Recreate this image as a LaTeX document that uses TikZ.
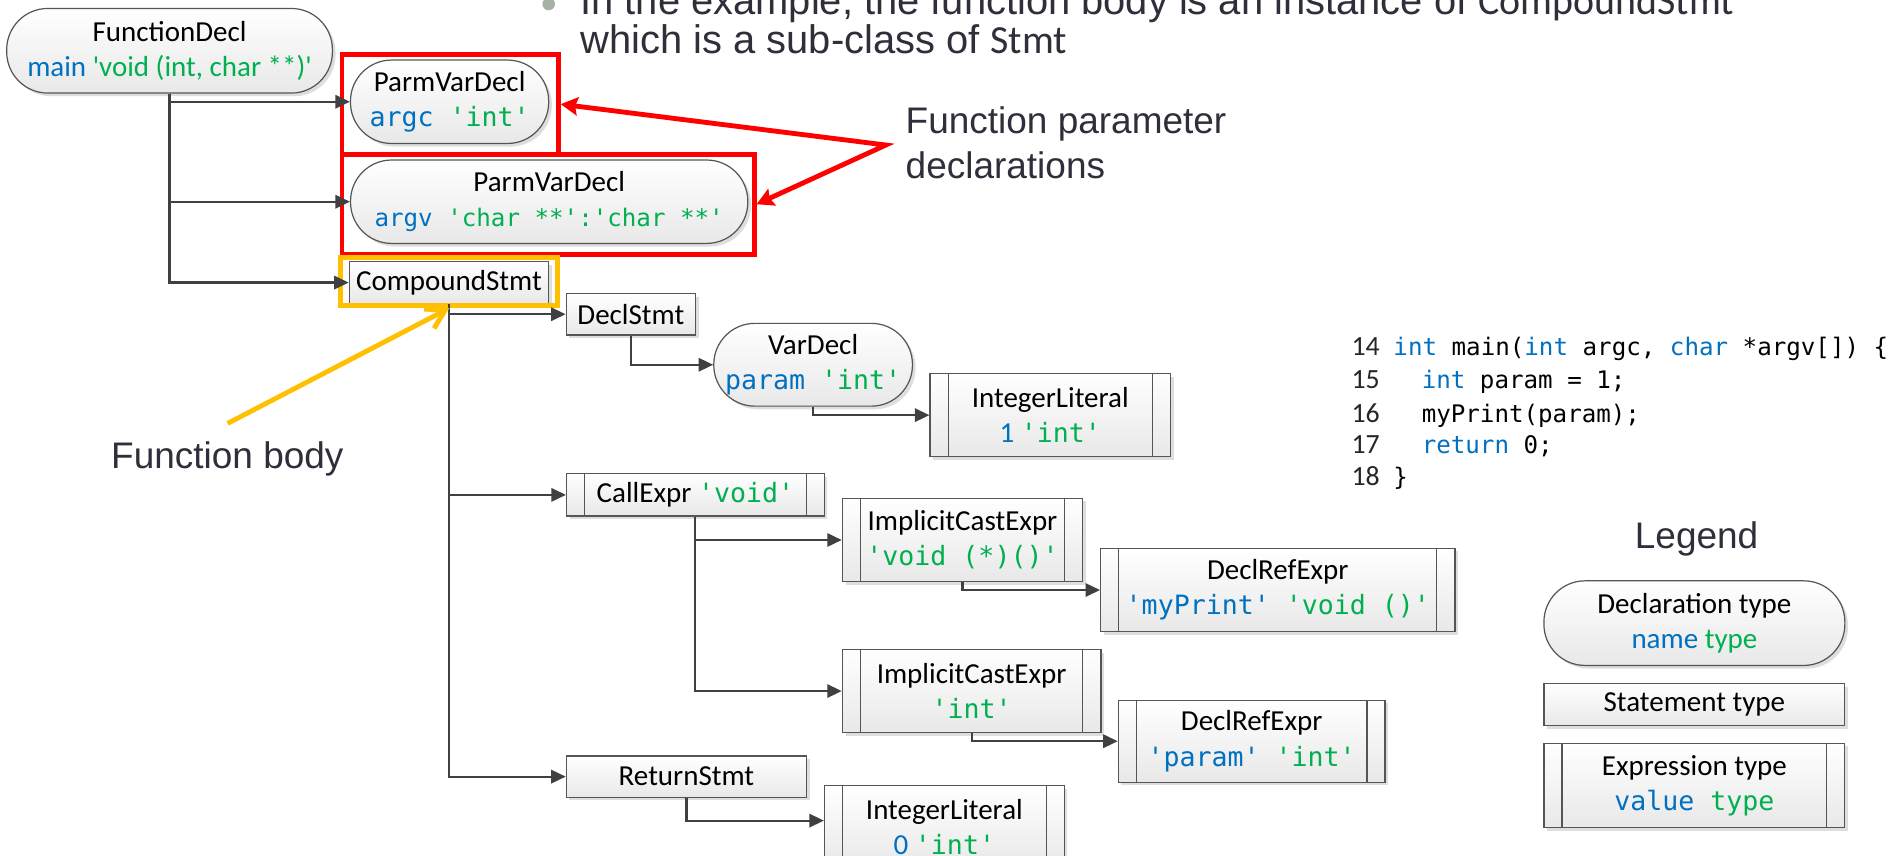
\documentclass[tikz,border=0pt]{standalone}
\usepackage{fontspec}
\newfontfamily\calib{Carlito}
\newfontfamily\cmonof{DejaVu Sans Mono}
\newfontfamily\arialf{Liberation Sans}
\usetikzlibrary{arrows.meta,shadows}
\definecolor{nblue}{HTML}{0070C0}
\definecolor{ngreen}{HTML}{00B050}
\definecolor{annot}{HTML}{2F2F3B}
\definecolor{hlyellow}{HTML}{FFC000}
\definecolor{bulletc}{HTML}{A8B0A8}
\definecolor{linec}{HTML}{404040}
\definecolor{borderc}{HTML}{555555}
\newcommand\nbl[1]{\textcolor{nblue}{#1}}
\newcommand\ngr[1]{\textcolor{ngreen}{#1}}
\newcommand\mtx[1]{{\cmonof\fontsize{11}{14.5}\selectfont #1}}
\newcommand\mts[1]{{\cmonof\fontsize{10}{14.5}\selectfont #1}}
\tikzset{
  astbox/.style={draw=borderc, line width=0.5pt, top color=white, bottom color=black!9,
    drop shadow={shadow xshift=1.3pt, shadow yshift=-1.3pt, fill=black!13, opacity=1},
    inner sep=0pt, align=center, text=black, font=\calib\fontsize{12}{14.5}\selectfont},
  declnode/.style={astbox, rounded corners=17pt},
  stmtnode/.style={astbox},
  exprnode/.style={astbox, path picture={
    \draw[borderc, line width=0.5pt]
      ([xshift=7.5pt]path picture bounding box.north west) -- ([xshift=7.5pt]path picture bounding box.south west)
      ([xshift=-7.5pt]path picture bounding box.north east) -- ([xshift=-7.5pt]path picture bounding box.south east);}},
  conn/.style={draw=linec, line width=0.9pt, -{Triangle[length=6pt,width=5.5pt]}},
  hlred/.style={draw=red, line width=2pt, inner sep=0pt},
  hlyel/.style={draw=hlyellow, line width=2pt, inner sep=0pt},
  annottext/.style={inner sep=0pt, text=annot, font=\arialf\fontsize{15.3}{18}\selectfont},
  codeline/.style={inner sep=0pt, anchor=base west, text=black, font=\cmonof\fontsize{10}{13}\selectfont},
  codenum/.style={inner sep=0pt, anchor=base west, text=black!85, font=\calib\fontsize{11.5}{13}\selectfont},
}
\begin{document}
\begin{tikzpicture}[x=0.5pt,y=-0.5pt]
\useasboundingbox (0,0) rectangle (1568,707.5);
\clip (0,0) rectangle (1568,707.5);
\fill[white] (0,0) rectangle (1568,707.5);

% heading text (cut by the top edge)
\node[circle, fill=bulletc, inner sep=0pt, minimum size=5.2pt] (bul) at (454,3.3) {};
\node[inner sep=0pt, anchor=base west, text=annot, font=\arialf\fontsize{16.5}{18}\selectfont] (t1) at (480,12.4)
  {In the example, the function body is an instance of {\calib CompoundStmt}};
\node[inner sep=0pt, anchor=base west, text=annot, font=\arialf\fontsize{16.5}{18}\selectfont] (t2) at (480,44.1)
  {which is a sub-class of {\calib Stmt}};

% AST nodes
\node[declnode, minimum width=134.75pt, minimum height=35pt] (fd) at (140.3,42)
  {FunctionDecl\\ \nbl{main} \ngr{'void (int, char **)'}};
\node[declnode, minimum width=82pt, minimum height=34.5pt] (p1) at (372,84.2)
  {ParmVarDecl\\ \mtx{\nbl{argc} \ngr{'int'}}};
\node[declnode, minimum width=164.35pt, minimum height=34.5pt] (p2) at (454.4,166.9)
  {ParmVarDecl\\ \mts{\nbl{argv} \ngr{'char **':'char **'}}};
\node[stmtnode, minimum width=82.5pt, minimum height=17.25pt] (cs) at (371.5,233.8) {CompoundStmt};
\node[stmtnode, minimum width=53.5pt, minimum height=17.25pt] (ds) at (522,260) {DeclStmt};
\node[declnode, minimum width=82.2pt, minimum height=34.25pt] (vd) at (672.8,301.8)
  {VarDecl\\ \mtx{\nbl{param} \ngr{'int'}}};
\node[exprnode, minimum width=99.5pt, minimum height=34.5pt] (il1) at (869,343.5)
  {IntegerLiteral\\ \nbl{1} \mtx{\ngr{'int'}}};
\node[exprnode, minimum width=106.65pt, minimum height=17.5pt] (ce) at (575.4,409.5)
  {CallExpr \mtx{\ngr{'void'}}};
\node[exprnode, minimum width=99.4pt, minimum height=34.5pt] (ice1) at (796.4,446.8)
  {ImplicitCastExpr\\ \mtx{\ngr{'void (*)()'}}};
\node[exprnode, minimum width=146.6pt, minimum height=34.5pt] (dre1) at (1057.3,488.2)
  {DeclRefExpr\\ \mtx{\nbl{'myPrint'} \ngr{'void ()'}}};
\node[exprnode, minimum width=107pt, minimum height=34.5pt] (ice2) at (804,571.8)
  {ImplicitCastExpr\\ \mtx{\ngr{'int'}}};
\node[exprnode, minimum width=110.35pt, minimum height=34pt] (dre2) at (1035.7,613.3)
  {DeclRefExpr\\ \mtx{\nbl{'param'} \ngr{'int'}}};
\node[stmtnode, minimum width=99.4pt, minimum height=17.1pt] (rs) at (568,642.6) {ReturnStmt};
\node[exprnode, minimum width=99.2pt, minimum height=34.5pt] (il0) at (781.4,684.5)
  {IntegerLiteral\\ \nbl{0} \mtx{\ngr{'int'}}};

% highlight boxes
\node[hlred, minimum width=89.5pt, minimum height=41.4pt] (rb1) at (372.5,86.2) {};
\node[hlred, minimum width=170.5pt, minimum height=41.45pt] (rb2) at (453.5,169) {};
\node[hlyel, minimum width=89.75pt, minimum height=20pt] (yb) at (371.75,233) {};

% tree connectors
\draw[conn] (fd.south) |- (p1.west);
\draw[conn] (fd.south) |- (p2.west);
\draw[conn] (fd.south) |- (cs.west);
\draw[conn] (cs.south) |- (ds.west);
\draw[conn] (cs.south) |- (ce.west);
\draw[conn] (cs.south) |- (rs.west);
\draw[conn] (ds.south) |- (vd.west);
\draw[conn] (vd.south) |- (il1.west);
\draw[conn] (ce.south) |- (ice1.west);
\draw[conn] (ce.south) |- (ice2.west);
\draw[conn] (ice1.south) |- (dre1.west);
\draw[conn] (ice2.south) |- (dre2.west);
\draw[conn] (rs.south) |- ([yshift=2.75pt]il0.west);

% annotations
\node[annottext, anchor=base west] (fpd1) at (749,110.3) {Function parameter};
\node[annottext, anchor=base west] (fpd2) at (749,147.5) {declarations};
\coordinate (rv) at (733,120);
\draw[red, line width=2pt, line join=miter, {Stealth[length=7pt,width=7.5pt,inset=1pt]}-{Stealth[length=7pt,width=7.5pt,inset=1pt]}]
  (rb1.east) -- (rv) -- (rb2.east);
\node[annottext, anchor=base west] (fb) at (91.6,387.5) {Function body};
\coordinate (ys) at (188.4,350.3);
\draw[hlyellow, line width=2pt, -{Straight Barb[length=7.5pt,width=9pt]}] (ys) -- (yb.south);

% source code
\node[codenum] (n14) at (1118,294) {14};
\node[codeline] (c14) at (1152.6,294) {\nbl{int} main(\nbl{int} argc, \nbl{char} *argv[]) \{};
\node[codenum] (n15) at (1118,321.6) {15};
\node[codeline] (c15) at (1176,321.6) {\nbl{int} param = 1;};
\node[codenum] (n16) at (1118,349.2) {16};
\node[codeline] (c16) at (1176,349.2) {myPrint(param);};
\node[codenum] (n17) at (1118,375.4) {17};
\node[codeline] (c17) at (1176,375.4) {\nbl{return} 0;};
\node[codenum] (n18) at (1118,401.6) {18};
\node[codeline] (c18) at (1152.6,401.6) {\}};

% legend
\node[annottext, anchor=base] (leg) at (1403.8,454.2) {Legend};
\node[declnode, minimum width=124.5pt, minimum height=35pt] (lg1) at (1402,515.6)
  {Declaration type\\ \nbl{name} \ngr{type}};
\node[stmtnode, minimum width=124.5pt, minimum height=17.5pt] (lg2) at (1402,583) {Statement type};
\node[exprnode, minimum width=124.5pt, minimum height=35pt] (lg3) at (1402,650)
  {Expression type\\ \mtx{\nbl{value} \ngr{type}}};
\end{tikzpicture}
\end{document}
